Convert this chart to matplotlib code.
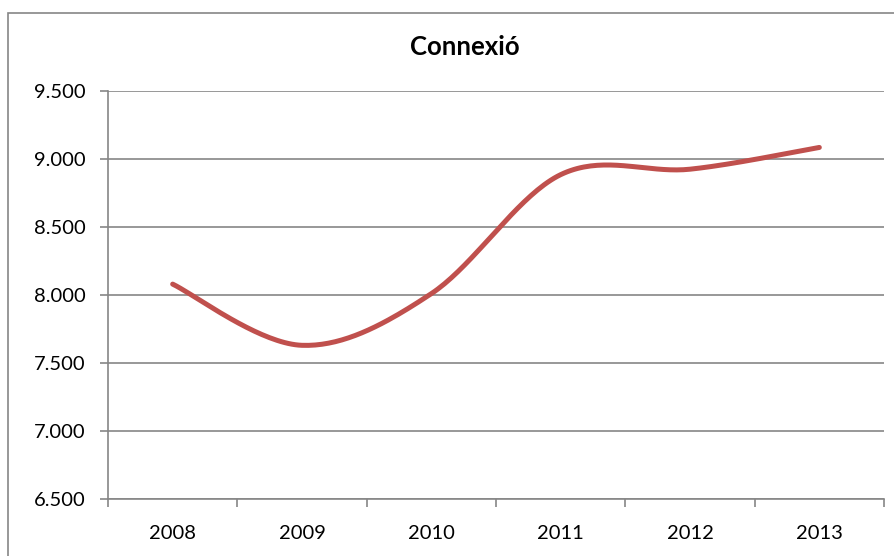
import numpy as np
import matplotlib.pyplot as plt
from matplotlib.patches import Rectangle
from matplotlib.ticker import FuncFormatter

years = ['2008', '2009', '2010', '2011', '2012', '2013']
connexio = [8080, 7630, 8010, 8885, 8925, 9085]

title = 'Connexió'
red = '#C0504D'
grey = '#868686'

plt.rcParams['font.family'] = ['Lato', 'DejaVu Sans']


# suavitzat tipus Excel (Bezier amb punts de control Catmull-Rom)
def smooth(x, y, n=40):
    p = np.column_stack([x, y]).astype(float)
    p = np.vstack([p[0], p, p[-1]])
    out = []
    for i in range(1, len(p) - 2):
        p0, p1, p2, p3 = p[i - 1], p[i], p[i + 1], p[i + 2]
        c1 = p1 + (p2 - p0) / 6
        c2 = p2 - (p3 - p1) / 6
        t = np.linspace(0, 1, n)[:, None]
        seg = (1 - t)**3 * p1 + 3 * (1 - t)**2 * t * c1 + 3 * (1 - t) * t**2 * c2 + t**3 * p2
        out.append(seg if i == 1 else seg[1:])
    s = np.vstack(out)
    return s[:, 0], s[:, 1]


fig = plt.figure(figsize=(8.94, 5.56), dpi=100)
ax = fig.add_axes([108 / 894, 1 - 499 / 556, 776 / 894, 408 / 556])

# marc exterior del gràfic
fig.patches.append(Rectangle((8 / 894, -0.2), 1.2, 1.2 - 13 / 556,
                             transform=fig.transFigure, fill=False,
                             edgecolor=grey, linewidth=1.2))

x = np.arange(len(years))
sx, sy = smooth(x, connexio)
ax.plot(sx, sy, color=red, linewidth=3.6, solid_capstyle='round', zorder=3)

ax.set_xlim(-0.5, len(years) - 0.5)
ax.set_ylim(6500, 9500)
ax.set_yticks(np.arange(6500, 9501, 500))
ax.yaxis.set_major_formatter(FuncFormatter(lambda v, _: f'{v:,.0f}'.replace(',', '.')))
ax.grid(axis='y', color=grey, linewidth=1.2)
ax.set_axisbelow(True)

ax.set_xticks(x)
ax.set_xticklabels(years)
ax.set_xticks(np.arange(-0.5, len(years)), minor=True)
ax.tick_params(axis='x', which='major', length=0, pad=19, labelsize=14.5)
ax.tick_params(axis='x', which='minor', length=6, color=grey, width=1.2)
ax.tick_params(axis='y', length=6, color=grey, width=1.2, labelsize=14.5, pad=10)

for side in ['top', 'right']:
    ax.spines[side].set_visible(False)
for side in ['left', 'bottom']:
    ax.spines[side].set_color(grey)
    ax.spines[side].set_linewidth(1.2)

fig.text(465 / 894, 1 - 55 / 556, title, ha='center', va='baseline',
         fontsize=18.5, fontweight='bold')

fig.savefig('out.png', dpi=100)
